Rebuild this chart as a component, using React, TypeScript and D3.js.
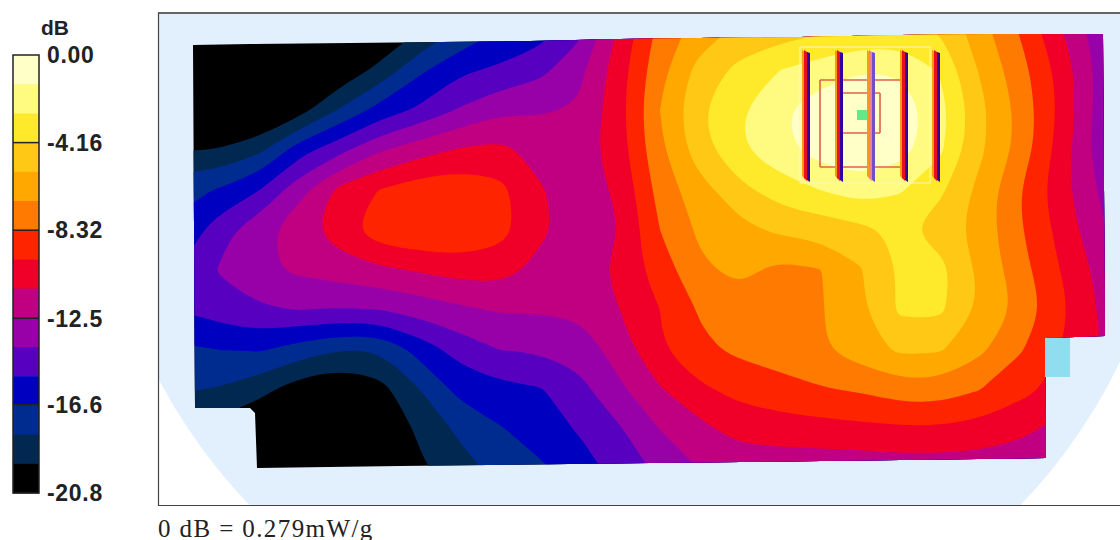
// App.tsx - SAR contour plot, levels
import React from 'react';
import * as d3 from 'd3';

// band colours, top of the colour bar to the bottom
const bandColors = [
  '#FFFFC8', '#FFFA80', '#FFE92B', '#FFC814', '#FFA800',
  '#FF7A00', '#FF2400', '#F00028', '#C00080', '#9800A8',
  '#5800C0', '#0000C0', '#002C90', '#002850', '#000000',
];
const tickValues = [0, -4.16, -8.32, -12.5, -16.6, -20.8];
const tickLabels = ['0.00', '-4.16', '-8.32', '-12.5', '-16.6', '-20.8'];
const footnote = '0 dB = 0.279mW/g';

// field, in contour levels below the peak (1 level = 20.8/15 dB)
// one array per scan row, nodes 40 units apart
const rowA = [16, 16, 16, 16, 16, 15.5, 14.6, 13.4, 12.5, 11.9, 10.8, 8.2, 6.1, 4.9, 4.2, 3.8, 3.5, 3.2, 3, 3.5, 5, 6.6, 8.3, 10, 11];
const rowB = [16, 16, 16, 16, 15.6, 15, 14, 12.9, 12, 11.5, 10.3, 7.8, 5.7, 4.6, 3.8, 3.5, 3.2, 2.9, 2.7, 3.1, 4.6, 6.1, 7.9, 9.6, 11];
const rowC = [16, 16, 16, 15.8, 14.8, 13.7, 12.2, 11.2, 10.8, 10.3, 9.2, 7.4, 5.3, 3.6, 2.7, 2, 1.5, 1.05, 1.1, 2.1, 4.1, 5.6, 7.3, 9.3, 11];
const rowD = [16, 16, 15.5, 14.4, 12.9, 11.6, 10.8, 9.9, 9.2, 9.1, 8.9, 7.3, 5, 3.1, 2.05, 1.1, 0.45, 0.15, 0.3, 1.6, 3.7, 5.3, 7.2, 9.4, 11];
const rowE = [14.1, 13.9, 13.2, 11.4, 10.3, 9.1, 8.4, 7.9, 7.7, 8.4, 8.5, 7.4, 5.2, 3.4, 2.1, 1.3, 0.55, 0.25, 0.55, 1.8, 3.8, 5.3, 7.4, 9.5, 11];
const rowF = [12.3, 11.9, 11, 9.3, 7.7, 6.95, 6.4, 6.3, 6.7, 7.9, 8.5, 7.8, 5.6, 4.4, 3.3, 2.5, 2, 1.45, 1.9, 2.8, 4.3, 6, 7.6, 9.1, 10.5];
const rowG = [11.8, 10.4, 9.3, 8.4, 7.4, 6.3, 6.05, 6.05, 6.6, 7.8, 8.5, 8, 6, 4.8, 4.3, 3.8, 3.6, 3.3, 2.75, 3.5, 4.4, 5.9, 7.3, 8.8, 10];
const rowH = [11, 9.9, 9.2, 8.8, 8.5, 8.2, 7.9, 7.6, 7.6, 8.3, 8.5, 7.7, 6.5, 5.2, 4.7, 5.3, 5.05, 4.1, 2.9, 2.65, 4.2, 5.6, 7, 8.3, 9.5];
const rowI = [11, 10.5, 10.1, 10, 10.1, 10, 9.6, 9.2, 8.9, 8.9, 8.8, 8, 7, 5.9, 5.6, 5.5, 5.1, 4.2, 2.8, 2.8, 4.1, 5.2, 6.7, 8.1, 9.3];
const rowJ = [12.2, 12, 11.9, 12.5, 13, 13, 11.6, 10.6, 10, 9.9, 9.6, 8.5, 7.1, 6.2, 5.8, 5.5, 5.1, 4.5, 3.8, 3.9, 4.8, 5.9, 7, 8, 9];
const rowK = [12.9, 13.1, 13.7, 14.6, 15, 14.4, 13, 11.7, 11.3, 11.1, 10.3, 9.2, 8.1, 7.2, 6.7, 6.4, 6.1, 5.9, 5.5, 5.45, 6, 6.7, 7.3, 8, 9];
const rowL = [14, 14.5, 15, 15.6, 15.8, 15, 13.8, 12.8, 12.1, 11.5, 10.9, 10.1, 9, 8.3, 7.6, 7.5, 7.4, 7.3, 7.2, 7.2, 7.4, 7.8, 8.3, 9, 9.5];
const rowM = [14, 15, 16, 16, 16, 15.2, 14.2, 13.4, 12.7, 12.2, 11.5, 10.6, 9.8, 9, 8.8, 8.7, 8.7, 8.7, 8.6, 8.6, 8.6, 8.6, 8.7, 9, 9.5];
const rowN = [14, 15, 16, 16, 16, 15.6, 14.8, 14, 13.4, 13, 12.2, 11.2, 10.4, 9.6, 9.4, 9.3, 9.3, 9.3, 9.2, 9.2, 9.2, 9.2, 9.3, 9.5, 10];
const fieldRows = [rowA, rowB, rowC, rowD, rowE, rowF, rowG, rowH, rowI, rowJ, rowK, rowL, rowM, rowN];

// scanned area outline, in scan units
const outlineX = [23, 80, 180, 360, 450, 530, 630, 730, 830, 933, 935, 875, 876, 730, 480, 230, 87, 85, 80, 25];
const outlineY = [55, 54, 53, 51, 49, 48, 47, 45, 44, 44, 346, 348, 468, 470, 473, 476, 478, 423, 418, 418];

// device drawn over the field, in scan units
const deviceBars = [633, 666, 698, 731, 763];
const deviceBox = { x: [630, 760], y: [57, 193] };
const deviceWiresX = [[650, 735], [650, 730], [673, 710], [673, 710]];
const deviceWiresY = [[90, 90], [177, 177], [103, 103], [143, 143]];
const deviceSidesX = [650, 710];
const deviceSidesY = [[90, 177], [103, 143]];
const feedPoint = [692, 125];
const portX = [875, 900];
const portY = [348, 387];

const phantomFill = '#E2EFFD';

const levelToDb = d3.scaleLinear().domain([0, 15]).range([0, -20.8]);
const scanX = d3.scaleLinear().domain([0, 950]).range([170, 1120]);
const scanY = d3.scaleLinear().domain([0, 520]).range([-10, 510]);
const barY = d3.scaleLinear().domain([0, -20.8]).range([55, 493]);

// one extra node on the left so the smoothing never reaches the clipped edge
const paddedRows = fieldRows.map(r => [r[0], ...r]);
const nCols = paddedRows[0].length;
const nRows = paddedRows.length;
const gridX = d3.scaleLinear().domain([0.5, nCols - 0.5]).range([scanX(-30), scanX(970)]);
const gridY = d3.scaleLinear().domain([0.5, nRows - 0.5]).range([scanY(0), scanY(520)]);

const thresholds = d3.range(1, 15).map(l => levelToDb(l));
const contours = d3.contours()
  .size([nCols, nRows])
  .smooth(true)
  .thresholds(thresholds)(paddedRows.flat().map(l => levelToDb(l)));

const ringLine = d3.line<number[]>()
  .x(d => gridX(d[0]))
  .y(d => gridY(d[1]))
  .curve(d3.curveBasisClosed);

const contourPath = (mp: d3.ContourMultiPolygon) =>
  mp.coordinates
    .flatMap(poly => poly.map(ring => ringLine(ring.slice(0, -1))))
    .join(' ');

const outlinePath =
  d3.line<number>().x(i => scanX(outlineX[i])).y(i => scanY(outlineY[i]))(d3.range(outlineX.length)) + 'Z';

const App: React.FC = () => {
  const bandH = (barY(-20.8) - barY(0)) / bandColors.length;
  return (
    <svg width={1120} height={540} style={{ position: 'absolute', left: 0, top: 0, background: '#fff' }}>
      <defs>
        <clipPath id="frame">
          <rect x={158} y={13} width={962} height={492} />
        </clipPath>
        <clipPath id="scan">
          <path d={outlinePath} />
        </clipPath>
      </defs>

      {/* phantom shape behind the scan */}
      <g clipPath="url(#frame)">
        <circle cx={635} cy={131} r={537} fill={phantomFill} />
      </g>
      <line x1={158} x2={1120} y1={13} y2={13} stroke="#666" strokeWidth={2} />
      <line x1={158.5} x2={158.5} y1={13} y2={506} stroke="#444" strokeWidth={1.2} />
      <line x1={158} x2={1120} y1={505.5} y2={505.5} stroke="#444" strokeWidth={1.2} />

      {/* filled contours */}
      <g clipPath="url(#scan)">
        <rect x={170} y={20} width={950} height={470} fill={bandColors[14]} />
        {contours.map((c, i) => (
          <path key={i} d={contourPath(c)} fill={bandColors[13 - i]} fillRule="evenodd" />
        ))}
      </g>

      {/* port */}
      <rect
        x={scanX(portX[0])}
        y={scanY(portY[0])}
        width={scanX(portX[1]) - scanX(portX[0])}
        height={scanY(portY[1]) - scanY(portY[0])}
        fill="#8FDDEE"
      />

      {/* device */}
      <rect
        x={scanX(deviceBox.x[0])}
        y={scanY(deviceBox.y[0])}
        width={scanX(deviceBox.x[1]) - scanX(deviceBox.x[0])}
        height={scanY(deviceBox.y[1]) - scanY(deviceBox.y[0])}
        fill="none"
        stroke="#FFF6C0"
        strokeWidth={1}
      />
      {deviceWiresX.map((wx, i) => (
        <line key={i} x1={scanX(wx[0])} x2={scanX(wx[1])} y1={scanY(deviceWiresY[i][0])} y2={scanY(deviceWiresY[i][1])} stroke="#E0604C" strokeWidth={1.6} />
      ))}
      {deviceSidesX.map((sx, i) => (
        <line key={i} x1={scanX(sx)} x2={scanX(sx)} y1={scanY(deviceSidesY[i][0])} y2={scanY(deviceSidesY[i][1])} stroke="#E0604C" strokeWidth={1.6} />
      ))}
      {deviceBars.map((b, i) => {
        const x0 = scanX(b);
        const top = scanY(60);
        const bottom = scanY(190);
        const pale = i === 2;
        return (
          <g key={b}>
            <path d={`M${x0 - 1},${top}l3,2v${bottom - top - 3}l-3,-3Z`} fill="#FF9A10" />
            <path d={`M${x0 + 1},${top}l3,2v${bottom - top - 1}l-3,-3Z`} fill={pale ? '#F08090' : '#E81020'} />
            <path d={`M${x0 + 4},${top + 2}l3,1v${bottom - top - 1}l-3,-2Z`} fill={pale ? '#7050C8' : '#3000A0'} />
          </g>
        );
      })}
      <rect x={scanX(feedPoint[0]) - 5} y={scanY(feedPoint[1]) - 5} width={10} height={10} fill="#66E888" />

      {/* colour bar */}
      {bandColors.map((c, i) => (
        <rect key={c} x={13} y={barY(0) + i * bandH} width={26} height={bandH + 0.5} fill={c} />
      ))}
      <rect x={13} y={barY(0)} width={26} height={barY(-20.8) - barY(0)} fill="none" stroke="#222" strokeWidth={1.5} />
      {tickValues.map((v, i) => (
        <g key={v}>
          {i > 0 && i < tickValues.length - 1 && (
            <line x1={13} x2={39} y1={barY(v)} y2={barY(v)} stroke="#222" strokeWidth={1.5} />
          )}
          <text
            x={47}
            y={barY(v)}
            dy="0.36em"
            fontFamily="'Liberation Sans', Arial, sans-serif"
            fontWeight="bold"
            fontSize={23}
            letterSpacing={0.7}
            fill="#222"
          >
            {tickLabels[i]}
          </text>
        </g>
      ))}
      <text x={41} y={35} fontFamily="'Liberation Sans', Arial, sans-serif" fontWeight="bold" fontSize={21} fill="#222">
        dB
      </text>

      <text x={158} y={536.5} fontFamily="'Liberation Serif', 'Times New Roman', serif" fontSize={25} letterSpacing={1.4} fill="#222">
        {footnote}
      </text>
    </svg>
  );
};

export default App;
